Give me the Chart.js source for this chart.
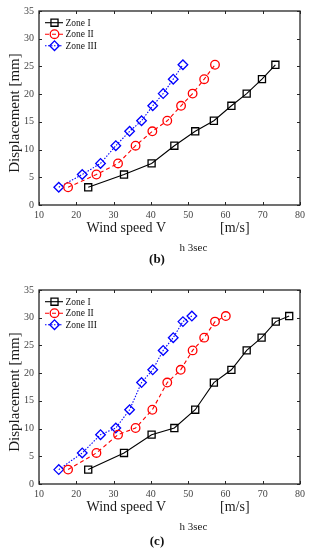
<!DOCTYPE html>
<html>
<head>
<meta charset="utf-8">
<script src="https://cdn.jsdelivr.net/npm/chart.js@4.4.1/dist/chart.umd.min.js"></script>
<style>
  html, body { margin: 0; padding: 0; background: #fff; }
  #wrap { position: relative; width: 310px; height: 550px; overflow: hidden; }
  canvas { position: absolute; left: 0; }
  .cap { position: absolute; width: 310px; left: 2px; text-align: center;
         font: bold 13px "Liberation Serif", serif; color: #111; }
</style>
</head>
<body>
<div id="wrap">
  <canvas id="chartB" width="310" height="262" style="top:0px"></canvas>
  <div class="cap" style="top:251px">(b)</div>
  <canvas id="chartC" width="310" height="262" style="top:279px"></canvas>
  <div class="cap" style="top:533px">(c)</div>
</div>
<script>
// ------------------------------------------------------------
// Displacement vs. 3-sec gust wind speed, two panels (b) and (c)
// ------------------------------------------------------------

const ZONE_LABELS = ["Zone I", "Zone II", "Zone III"];

// panel (b) — displacement rows shared by all three zones
const dispB = [3.2, 5.5, 7.5, 10.7, 13.3, 15.2, 17.9, 20.1, 22.7, 25.3];
const speedZone1B = [23.2, 32.8, 40.2, 46.3, 51.9, 56.9, 61.6, 65.7, 69.8, 73.4];
const speedZone2B = [17.8, 25.4, 31.2, 35.9, 40.4, 44.4, 48.1, 51.2, 54.3, 57.2];
const speedZone3B = [15.3, 21.6, 26.5, 30.6, 34.3, 37.5, 40.5, 43.3, 46.0, 48.6];

// panel (c)
const dispC = [2.6, 5.6, 8.9, 10.1, 13.4, 18.3, 20.6, 24.1, 26.4, 29.3, 30.3];
const speedZone1C = [23.2, 32.8, 40.2, 46.3, 51.9, 56.9, 61.6, 65.7, 69.7, 73.5, 77.1];
const speedZone2C = [17.8, 25.4, 31.2, 35.9, 40.4, 44.4, 48.0, 51.2, 54.3, 57.2, 60.1];
const speedZone3C = [15.3, 21.6, 26.5, 30.6, 34.3, 37.5, 40.5, 43.3, 46.0, 48.6, 51.0];

// axis ranges / ticks
const X_MIN = 10, X_MAX = 80, X_STEP = 10;
const Y_MIN = 0, Y_MAX = 35, Y_STEP = 5;

const SERIF = '"Liberation Serif", "Times New Roman", serif';
const AXIS_COLOR = "#262626";

// MATLAB-ish styling per zone
const ZONE_STYLE = [
  { color: "#000000", pointStyle: "rect", radius: 5.0, dash: [] },
  { color: "#ff0000", pointStyle: "circle", radius: 4.3, dash: [4, 3] },
  { color: "#0000ff", pointStyle: "rectRot", radius: 4.8, dash: [1.5, 1.5] },
];

// Box frame with inward ticks on all four sides (ticks drawn by Chart.js are outward only)
const framePlugin = {
  id: "frame",
  afterDatasetsDraw(chart) {
    const { ctx, chartArea: a, scales } = chart;
    ctx.save();
    ctx.strokeStyle = AXIS_COLOR;
    ctx.lineWidth = 1;
    ctx.beginPath();
    scales.x.ticks.forEach((t) => {
      const px = Math.round(scales.x.getPixelForValue(t.value)) + 0.5;
      ctx.moveTo(px, a.bottom); ctx.lineTo(px, a.bottom - 3);
      ctx.moveTo(px, a.top); ctx.lineTo(px, a.top + 3);
    });
    scales.y.ticks.forEach((t) => {
      const py = Math.round(scales.y.getPixelForValue(t.value)) + 0.5;
      ctx.moveTo(a.left, py); ctx.lineTo(a.left + 3, py);
      ctx.moveTo(a.right, py); ctx.lineTo(a.right - 3, py);
    });
    ctx.stroke();
    ctx.lineWidth = 1.3;
    ctx.strokeRect(a.left, a.top, a.right - a.left, a.bottom - a.top);
    ctx.restore();
  },
};

// Legend in the upper-left corner: line sample + marker + label
const legendPlugin = {
  id: "zoneLegend",
  afterDraw(chart) {
    const { ctx, chartArea: a } = chart;
    ctx.save();
    chart.data.datasets.forEach((ds, i) => {
      const y = a.top + 11.7 + i * 11.5;
      const x0 = a.left + 6, x1 = a.left + 24, xm = a.left + 15.5;
      ctx.strokeStyle = ds.borderColor;
      ctx.lineWidth = 1.1;
      ctx.setLineDash(ds.borderDash);
      ctx.beginPath(); ctx.moveTo(x0, y); ctx.lineTo(x1, y); ctx.stroke();
      ctx.setLineDash([]);
      ctx.lineWidth = ds.pointBorderWidth;
      ctx.fillStyle = "rgba(0,0,0,0)";
      Chart.helpers.drawPoint(ctx, {
        pointStyle: ds.pointStyle, radius: ds.pointRadius, rotation: 0,
        borderWidth: ds.pointBorderWidth,
      }, xm, y);
      ctx.fillStyle = "#111";
      ctx.font = "9.5px " + SERIF;
      ctx.textBaseline = "middle";
      ctx.textAlign = "left";
      ctx.fillText(ds.label, a.left + 26.5, y + 0.5);
    });
    ctx.restore();
  },
};

// Axis titles; x title carries the "h 3sec" subscript
const titlesPlugin = {
  id: "axisTitles",
  afterDraw(chart) {
    const { ctx, chartArea: a } = chart;
    ctx.save();
    ctx.fillStyle = "#1a1a1a";
    ctx.textBaseline = "alphabetic";
    ctx.textAlign = "left";
    const base = a.bottom + 27;
    ctx.font = "14px " + SERIF;
    ctx.fillText("Wind speed V", 86.5, base);
    ctx.fillText("[m/s]", 220, base);
    ctx.font = "11px " + SERIF;
    ctx.fillText("h 3sec", 179.5, base + 19);
    // y title
    ctx.translate(15, (a.top + a.bottom) / 2 + 5);
    ctx.rotate(-Math.PI / 2);
    ctx.font = "15px " + SERIF;
    ctx.textAlign = "center";
    ctx.textBaseline = "middle";
    ctx.fillText("Displacement [mm]", 0, 0);
    ctx.restore();
  },
};

function zoneDataset(i, speeds, disp) {
  const s = ZONE_STYLE[i];
  return {
    label: ZONE_LABELS[i],
    data: speeds.map((x, k) => ({ x, y: disp[k] })),
    showLine: true,
    borderColor: s.color,
    borderWidth: 1.1,
    borderDash: s.dash,
    pointStyle: s.pointStyle,
    pointRadius: s.radius,
    pointHoverRadius: s.radius,
    pointBorderWidth: 1.3,
    pointBorderColor: s.color,
    pointBackgroundColor: "rgba(0,0,0,0)",
    tension: 0,
  };
}

function buildPanel(canvasId, s1, s2, s3, disp) {
  const canvas = document.getElementById(canvasId);
  return new Chart(canvas.getContext("2d"), {
    type: "scatter",
    data: {
      datasets: [zoneDataset(0, s1, disp), zoneDataset(1, s2, disp), zoneDataset(2, s3, disp)],
    },
    plugins: [framePlugin, legendPlugin, titlesPlugin],
    options: {
      responsive: false,
      animation: false,
      layout: { padding: { top: 11, right: 10, left: 0, bottom: 0 } },
      plugins: { legend: { display: false }, tooltip: { enabled: false } },
      scales: {
        x: {
          type: "linear",
          min: X_MIN, max: X_MAX,
          grid: { display: false, drawTicks: false },
          border: { display: false },
          ticks: { stepSize: X_STEP, padding: 4, color: "#444", font: { family: SERIF, size: 10 } },
          afterFit: (sc) => { sc.height = 57; },
        },
        y: {
          type: "linear",
          min: Y_MIN, max: Y_MAX,
          grid: { display: false, drawTicks: false },
          border: { display: false },
          ticks: { stepSize: Y_STEP, padding: 5, color: "#444", font: { family: SERIF, size: 10 } },
          afterFit: (sc) => { sc.width = 39; },
        },
      },
    },
  });
}

buildPanel("chartB", speedZone1B, speedZone2B, speedZone3B, dispB);
buildPanel("chartC", speedZone1C, speedZone2C, speedZone3C, dispC);
</script>
</body>
</html>
